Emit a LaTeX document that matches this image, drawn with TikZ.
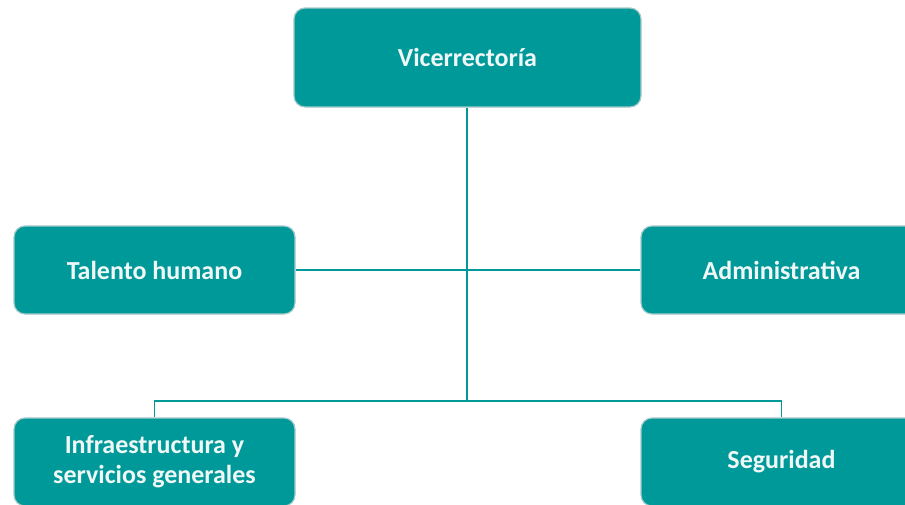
\documentclass[tikz,border=0pt]{standalone}
\usepackage{fontspec}
\setmainfont{Carlito}
\begin{document}
\begin{tikzpicture}[x=1pt,y=-1pt,
  orgbox/.style={draw=black!20!teal!35!white, line width=1.2pt, fill=teal99, rounded corners=11pt,
    text=white!94!teal, font=\fontsize{26}{30}\selectfont\bfseries, align=center, inner sep=0pt},
  link/.style={draw=teal99, line width=1.6pt}]
\definecolor{teal99}{RGB}{0,153,153}
\useasboundingbox (0,0) rectangle (905,504);
\clip (0,0) rectangle (905,504);
\node[orgbox, minimum width=347pt, minimum height=99pt] (vr) at (467.5,57.5) {Vicerrectoría};
\node[orgbox, minimum width=281pt, minimum height=88pt] (th) at (154.5,270) {Talento humano};
\node[orgbox, minimum width=281pt, minimum height=88pt] (ad) at (781.5,270) {Administrativa};
\node[orgbox, minimum width=281pt, minimum height=88pt] (in) at (154.5,462) {Infraestructura y\\servicios generales};
\node[orgbox, minimum width=281pt, minimum height=88pt] (se) at (781.5,462) {Seguridad};
\coordinate (hub) at (467,401);
\draw[link] (vr.south -| hub) -- (hub);
\draw[link] (th.east) -- (ad.west);
\draw[link] (in.north) -- (in.north |- hub) -- (se.north |- hub) -- (se.north);
\end{tikzpicture}
\end{document}
